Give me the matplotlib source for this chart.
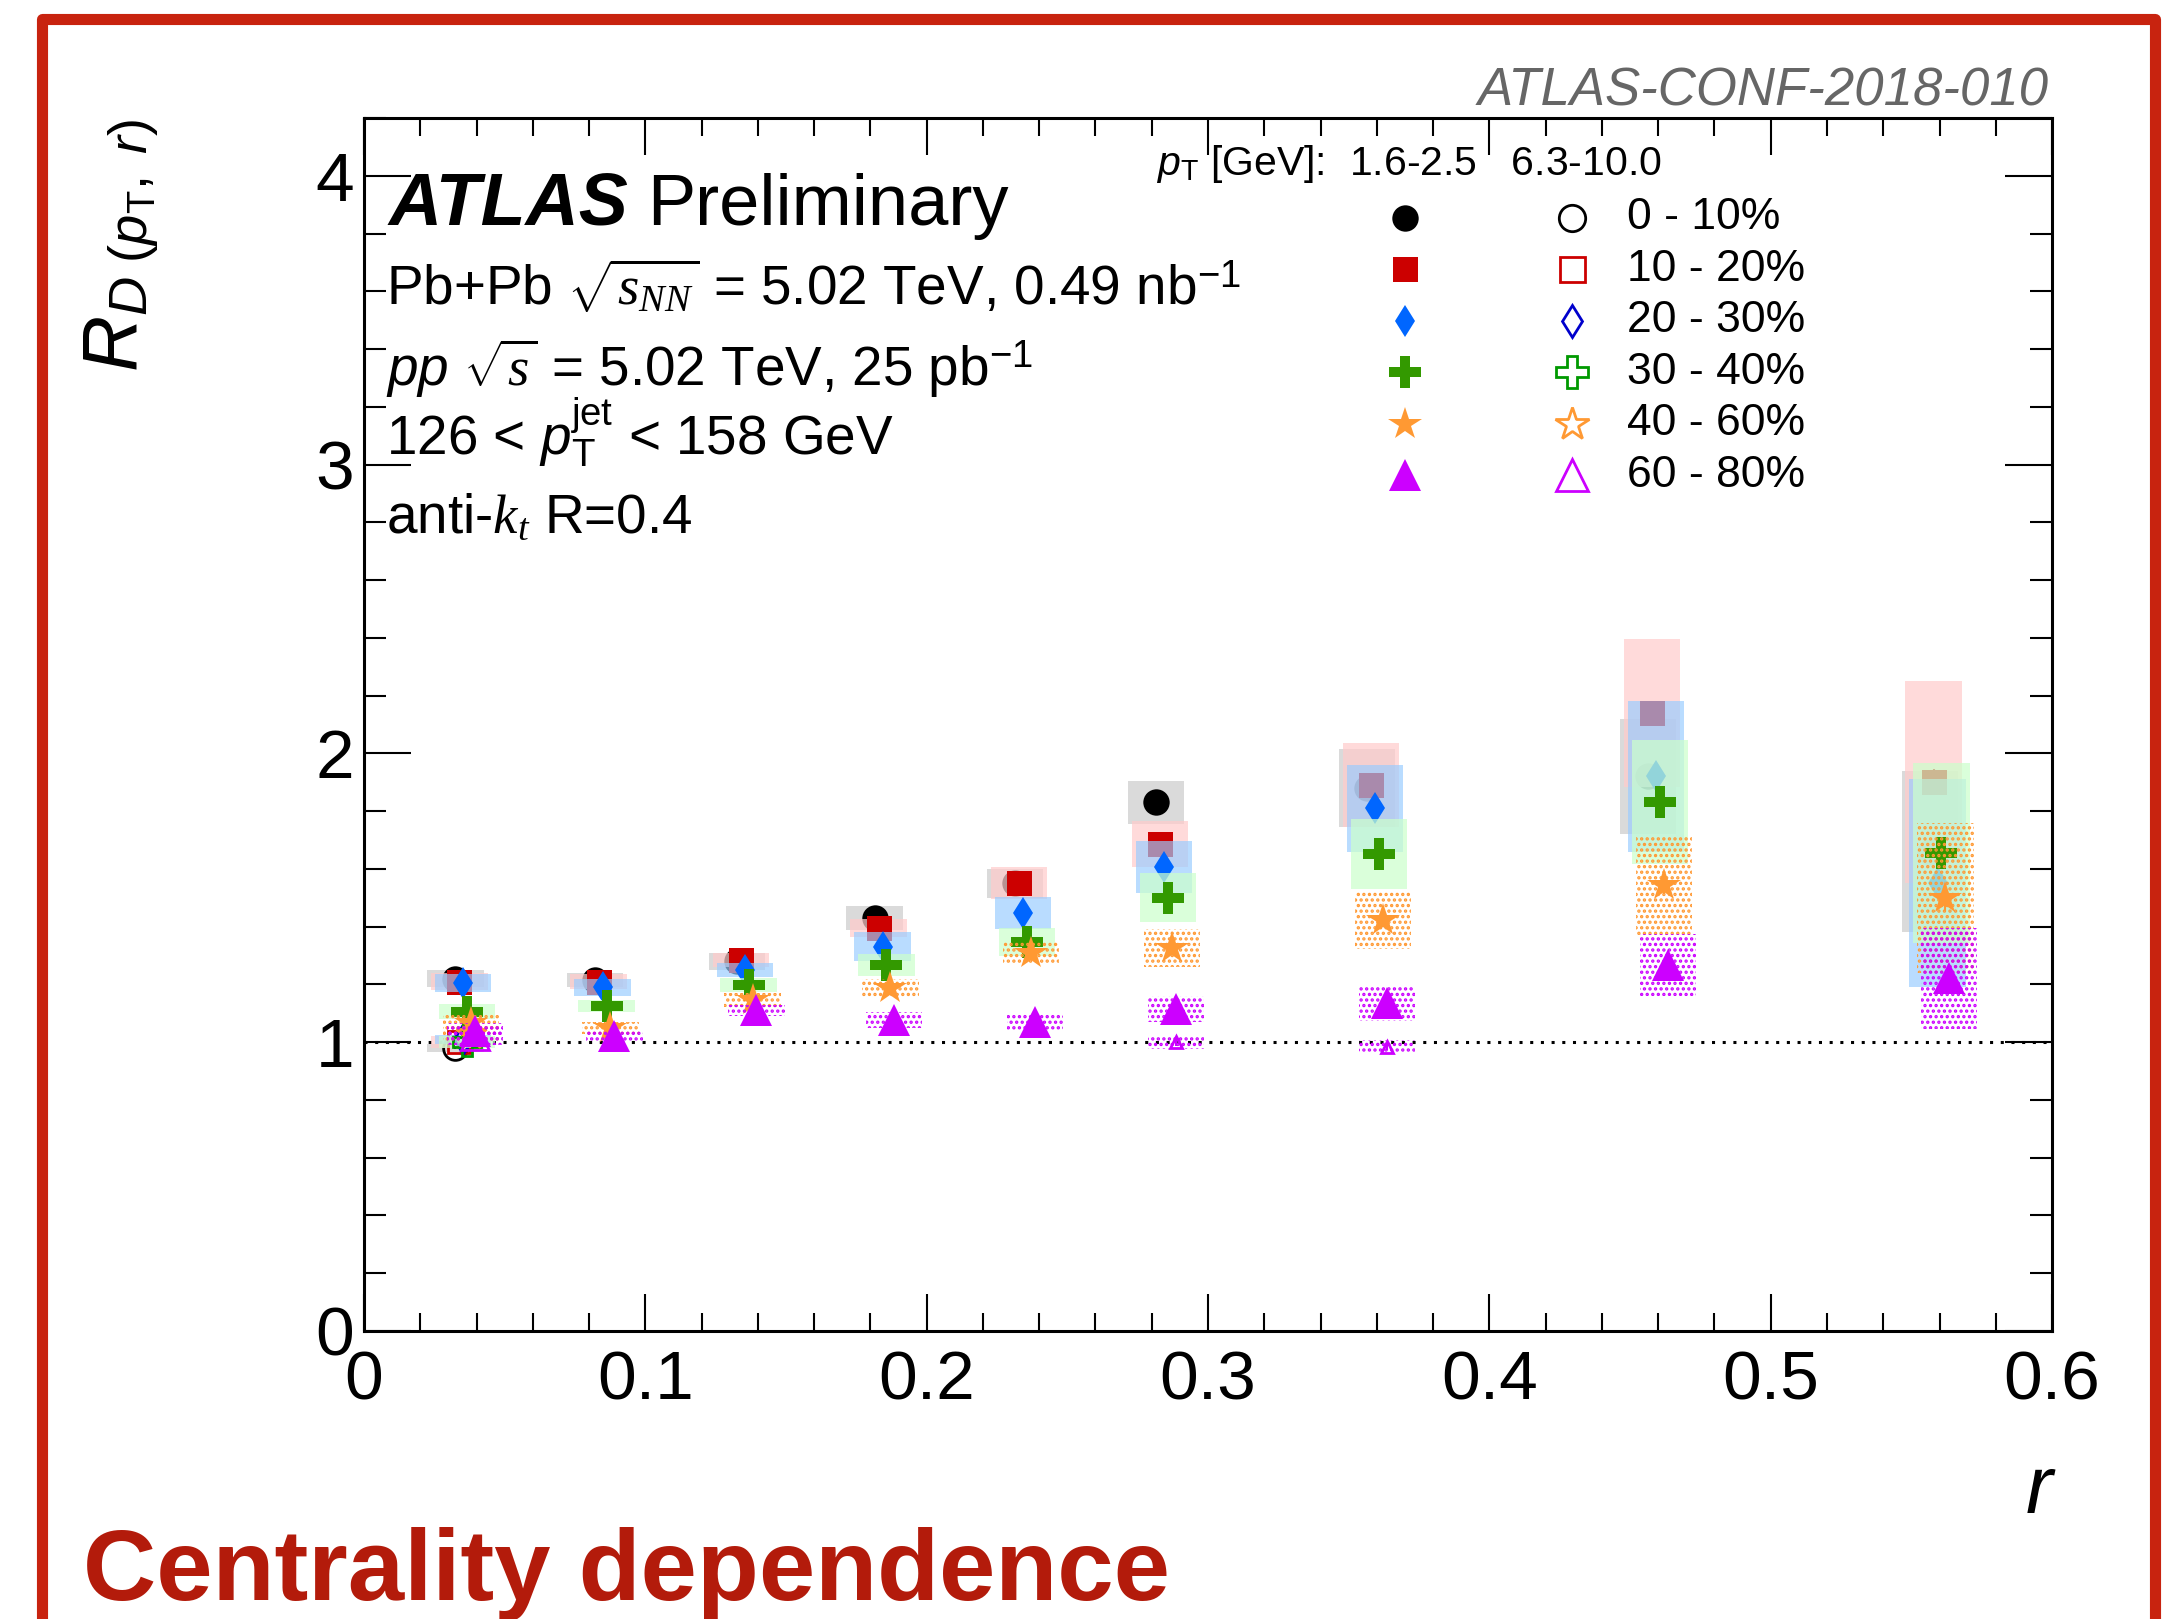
import numpy as np
import matplotlib
matplotlib.use("Agg")
import matplotlib.pyplot as plt
from matplotlib.patches import Rectangle
from matplotlib.ticker import MultipleLocator, FuncFormatter

plt.rcParams['font.family'] = ['Liberation Sans', 'DejaVu Sans']
plt.rcParams['mathtext.fontset'] = 'custom'
plt.rcParams['mathtext.rm'] = 'Liberation Sans'
plt.rcParams['mathtext.it'] = 'Liberation Serif:italic'
plt.rcParams['mathtext.sf'] = 'Liberation Sans:italic'
plt.rcParams['mathtext.bf'] = 'Liberation Sans:bold'
plt.rcParams['hatch.linewidth'] = 1.6

# ---------------------------------------------------------------- data
r_bins = [0.036, 0.0855, 0.136, 0.185, 0.235, 0.285, 0.36, 0.46, 0.56]

centrality_labels = ["0 - 10%", "10 - 20%", "20 - 30%", "30 - 40%", "40 - 60%", "60 - 80%"]

# R_D for 1.6 < pT < 2.5 GeV, per centrality bin, with systematic half-heights
rd_low_0_10 = [1.22, 1.215, 1.28, 1.43, 1.55, 1.83, 1.88, 1.92, 1.66]
rd_low_10_20 = [1.21, 1.21, 1.285, 1.395, 1.55, 1.685, 1.89, 2.14, 1.90]
rd_low_20_30 = [1.205, 1.19, 1.25, 1.33, 1.447, 1.606, 1.81, 1.92, 1.55]
rd_low_30_40 = [1.105, 1.125, 1.198, 1.267, 1.347, 1.50, 1.652, 1.832, 1.655]
rd_low_40_60 = [1.066, 1.05, 1.146, 1.188, 1.31, 1.327, 1.423, 1.544, 1.50]
rd_low_60_80 = [1.04, 1.02, 1.11, 1.077, 1.07, 1.115, 1.136, 1.267, 1.222]

sys_low_0_10 = [0.03, 0.025, 0.03, 0.04, 0.05, 0.075, 0.135, 0.20, 0.28]
sys_low_10_20 = [0.03, 0.025, 0.025, 0.03, 0.055, 0.08, 0.145, 0.256, 0.35]
sys_low_20_30 = [0.032, 0.03, 0.025, 0.05, 0.055, 0.09, 0.15, 0.26, 0.36]
sys_low_30_40 = [0.026, 0.02, 0.025, 0.037, 0.05, 0.085, 0.12, 0.215, 0.31]
sys_low_40_60 = [0.03, 0.02, 0.025, 0.03, 0.037, 0.065, 0.10, 0.175, 0.26]
sys_low_60_80 = [0.025, 0.02, 0.02, 0.027, 0.027, 0.045, 0.062, 0.108, 0.175]

stat_low = [0.004, 0.004, 0.005, 0.007, 0.009, 0.012, 0.018, 0.03, 0.045]

# R_D for 6.3 < pT < 10.0 GeV (nan where not shown)
nan = np.nan
rd_high_0_10 = [0.98, nan, nan, nan, nan, nan, nan, nan, nan]
rd_high_10_20 = [1.00, nan, nan, nan, nan, nan, nan, nan, nan]
rd_high_20_30 = [1.01, nan, nan, nan, nan, nan, nan, nan, nan]
rd_high_30_40 = [1.00, nan, nan, nan, nan, nan, nan, nan, nan]
rd_high_40_60 = [1.03, nan, nan, nan, nan, nan, nan, nan, nan]
rd_high_60_80 = [1.02, nan, nan, nan, nan, 1.00, 0.985, nan, nan]

sys_high_0_10 = [0.015, nan, nan, nan, nan, nan, nan, nan, nan]
sys_high_10_20 = [0.02, nan, nan, nan, nan, nan, nan, nan, nan]
sys_high_20_30 = [0.015, nan, nan, nan, nan, nan, nan, nan, nan]
sys_high_30_40 = [0.02, nan, nan, nan, nan, nan, nan, nan, nan]
sys_high_40_60 = [0.03, nan, nan, nan, nan, nan, nan, nan, nan]
sys_high_60_80 = [0.03, nan, nan, nan, nan, 0.022, 0.022, nan, nan]

rd_low = [rd_low_0_10, rd_low_10_20, rd_low_20_30, rd_low_30_40, rd_low_40_60, rd_low_60_80]
sys_low = [sys_low_0_10, sys_low_10_20, sys_low_20_30, sys_low_30_40, sys_low_40_60, sys_low_60_80]
rd_high = [rd_high_0_10, rd_high_10_20, rd_high_20_30, rd_high_30_40, rd_high_40_60, rd_high_60_80]
sys_high = [sys_high_0_10, sys_high_10_20, sys_high_20_30, sys_high_30_40, sys_high_40_60, sys_high_60_80]

# ---------------------------------------------------------------- styles
fill_colors = ['#000000', '#CC0000', '#0066FF', '#339900', '#FF9933', '#CC00FF']
open_colors = ['#000000', '#CC0000', '#0000CC', '#009900', '#FF9933', '#CC00FF']
box_styles = [
    dict(color='#CCCCCC', alpha=0.72, hatch=None),
    dict(color='#FFCCCC', alpha=0.72, hatch=None),
    dict(color='#99CCFF', alpha=0.68, hatch=None),
    dict(color='#CCFFCC', alpha=0.72, hatch=None),
    dict(color='#FF9933', alpha=1.0, hatch='...'),
    dict(color='#CC00FF', alpha=1.0, hatch='...'),
]
markers = ['o', 's', 'd', 'P', '*', '^']
msizes = [19, 18, 16.5, 23, 25, 23]
box_width = 0.02
x_step = 0.0014

fig = plt.figure(figsize=(21.77, 16.19), dpi=100)
ax = fig.add_axes([0.1672, 0.1779, 0.7754, 0.7492])

ax.axhline(1.0, color='black', lw=2.2, linestyle=(0, (1, 2.5)), zorder=1.5)


def draw_boxes(xs, ys, hs, style, z):
    ys = np.asarray(ys, float)
    hs = np.asarray(hs, float)
    ok = ~np.isnan(ys)
    if style['hatch'] is None:
        ax.bar(xs[ok], 2 * hs[ok], bottom=ys[ok] - hs[ok], width=box_width,
               color=style['color'], alpha=style['alpha'], linewidth=0, zorder=z)
    else:
        ax.bar(xs[ok], 2 * hs[ok], bottom=ys[ok] - hs[ok], width=box_width,
               facecolor='none', edgecolor=style['color'], hatch=style['hatch'],
               linewidth=0, zorder=z)


for i in range(6):
    xs = np.array(r_bins) + (i - 2.5) * x_step
    z = 3 + 2 * i
    hi = np.asarray(rd_high[i], float)
    first = np.arange(len(hi)) == 0
    draw_boxes(xs, rd_low[i], sys_low[i], box_styles[i], z)
    draw_boxes(xs, rd_high[i], sys_high[i], box_styles[i], z)
    ax.errorbar(xs, rd_low[i], yerr=stat_low, fmt=markers[i], ms=msizes[i],
                color=fill_colors[i], mec=fill_colors[i], mew=0, elinewidth=1.5,
                capsize=0, zorder=z + 1)
    # high-pT points: full size in the first bin, small further out
    ax.errorbar(xs[first], hi[first], yerr=0.005, fmt=markers[i], ms=msizes[i] * 0.9,
                color=open_colors[i], mfc='none', mec=open_colors[i], mew=2.0,
                elinewidth=1.5, capsize=0, zorder=z + 1)
    ax.errorbar(xs[~first], hi[~first], yerr=0.012, fmt=markers[i], ms=msizes[i] * 0.4,
                color=open_colors[i], mfc='none', mec=open_colors[i], mew=2.0,
                elinewidth=1.5, capsize=0, zorder=z + 1)

# ---------------------------------------------------------------- axes
ax.set_xlim(0, 0.6)
ax.set_ylim(0, 4.2)
ax.xaxis.set_major_locator(MultipleLocator(0.1))
ax.xaxis.set_minor_locator(MultipleLocator(0.02))
ax.yaxis.set_major_locator(MultipleLocator(1))
ax.yaxis.set_minor_locator(MultipleLocator(0.2))
ax.xaxis.set_major_formatter(FuncFormatter(lambda v, p: '0' if abs(v) < 1e-9 else f'{v:.1f}'))
ax.yaxis.set_major_formatter(FuncFormatter(lambda v, p: f'{v:.0f}'))
ax.tick_params(which='both', direction='in', top=True, right=True, width=1.5, color='black')
ax.tick_params(axis='x', which='major', length=26.6, pad=13, labelsize=50)
ax.tick_params(axis='x', which='minor', length=13)
ax.tick_params(axis='y', which='major', length=33.8, pad=7, labelsize=50)
ax.tick_params(axis='y', which='minor', length=15.8)
for s in ax.spines.values():
    s.set_linewidth(2.2)

# ---------------------------------------------------------------- text block
ax.text(0.0148, 0.9118, 'ATLAS', transform=ax.transAxes, fontsize=53,
        weight='bold', style='italic', va='baseline', ha='left')
ax.text(0.1677, 0.9118, 'Preliminary', transform=ax.transAxes, fontsize=52,
        va='baseline', ha='left')
info_lines = [
    r"Pb+Pb $\sqrt{s_{NN}}$ = 5.02 TeV, 0.49 nb$^{-1}$",
    r"$\mathsf{pp}$ $\sqrt{s}$ = 5.02 TeV, 25 pb$^{-1}$",
    r"126 < $\mathsf{p}_{\mathrm{T}}^{\mathrm{jet}}$ < 158 GeV",
    r"anti-$k_{t}$ R=0.4",
]
info_y = [0.8458, 0.779, 0.7222, 0.6587]
for txt, yy in zip(info_lines, info_y):
    ax.text(0.013, yy, txt, transform=ax.transAxes, fontsize=39.5, va='baseline', ha='left')

# ---------------------------------------------------------------- legend
ax.text(0.469, 0.962, r"$\mathsf{p}_{\mathrm{T}}$ [GeV]:  1.6-2.5   6.3-10.0",
        transform=ax.transAxes, fontsize=29.5, va='center', ha='left')
row0, row_step = 0.9176, 0.0424
for i, lab in enumerate(centrality_labels):
    yy = row0 - i * row_step
    ax.plot([0.6167], [yy], marker=markers[i], ms=msizes[i], color=fill_colors[i],
            mew=0, linestyle='none', transform=ax.transAxes, clip_on=False, zorder=20)
    ax.plot([0.7156], [yy], marker=markers[i], ms=msizes[i], mfc='none',
            mec=open_colors[i], mew=2.0, linestyle='none', transform=ax.transAxes,
            clip_on=False, zorder=20)
    ax.text(0.748, yy, lab, transform=ax.transAxes, fontsize=32, va='center', ha='left')

# ---------------------------------------------------------------- figure labels
fig.text(0.056, 0.927, r"$\mathsf{R}_{\mathsf{D}\ (\mathsf{p}_{\mathrm{T}},\ \mathsf{r})}$",
         rotation=90, ha='center', va='top', fontsize=56)
fig.text(0.9426, 0.0655, 'r', style='italic', ha='right', va='baseline', fontsize=58)
fig.text(0.941, 0.935, 'ATLAS-CONF-2018-010', style='italic', color='#666666',
         ha='right', va='baseline', fontsize=38)
fig.text(0.0383, 0.0117, 'Centrality dependence', weight='bold', color='#B31B0B',
         ha='left', va='baseline', fontsize=73)

frame = Rectangle((0.0195, -0.05), 0.9705, 1.0385, transform=fig.transFigure,
                  fill=False, edgecolor='#C8230F', linewidth=8, joinstyle='round')
fig.patches.append(frame)

fig.savefig('out.png', dpi=100)
